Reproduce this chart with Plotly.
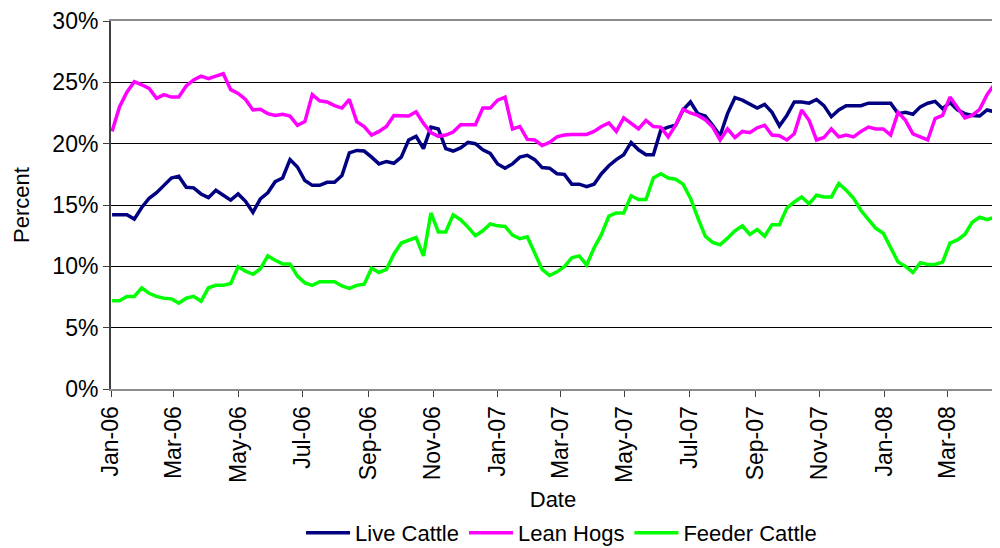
import pandas as pd
import plotly.graph_objects as go

# weekly observations, Jan-06 .. Apr-08
DATES = pd.date_range("2006-01-02", periods=120, freq="7D")

LIVE_CATTLE = [
    14.2, 14.2, 14.2, 13.85, 14.8, 15.55, 16.0, 16.6, 17.2, 17.35, 16.45, 16.4, 15.9, 15.6, 16.2, 15.8, 15.4, 15.9, 15.3, 14.4,
    15.5, 16.0, 16.9, 17.2, 18.7, 18.1, 17.0, 16.6, 16.6, 16.85, 16.85, 17.4, 19.25, 19.45, 19.4, 18.9, 18.35, 18.55, 18.4, 18.9,
    20.3, 20.6, 19.6, 21.35, 21.2, 19.6, 19.4, 19.65, 20.1, 20.0, 19.5, 19.2, 18.35, 18.0, 18.35, 18.9, 19.05, 18.7, 18.05,
    18.0, 17.55, 17.5, 16.7, 16.7, 16.5, 16.7, 17.55, 18.2, 18.7, 19.1, 20.1, 19.5, 19.1, 19.1, 21.1, 21.35, 21.5, 22.75,
    23.4, 22.45, 22.25, 21.5, 20.65, 22.45, 23.75, 23.55, 23.2, 22.9, 23.2, 22.55, 21.45, 22.3, 23.4, 23.4, 23.3, 23.6, 23.1, 22.2,
    22.75, 23.1, 23.1, 23.1, 23.3, 23.3, 23.3, 23.3, 22.45, 22.55, 22.4, 23.0, 23.3, 23.45, 22.85, 23.35, 22.75, 22.45, 22.3, 22.25, 22.75, 22.6,
]

LEAN_HOGS = [
    21.0, 23.0, 24.2, 25.05, 24.8, 24.5, 23.7, 24.0, 23.8, 23.8, 24.7, 25.2, 25.5, 25.3, 25.5, 25.7, 24.4, 24.1, 23.6, 22.75,
    22.8, 22.45, 22.3, 22.4, 22.25, 21.5, 21.8, 24.0, 23.5, 23.4, 23.1, 22.9, 23.6, 21.8, 21.4, 20.7, 21.0, 21.4, 22.3, 22.25,
    22.25, 22.6, 21.65, 20.9, 20.6, 20.7, 20.95, 21.55, 21.55, 21.55, 22.9, 22.9, 23.55, 23.8, 21.2, 21.4, 20.35, 20.3, 19.85,
    20.1, 20.55, 20.7, 20.75, 20.75, 20.75, 21.0, 21.4, 21.7, 21.0, 22.1, 21.65, 21.2, 21.9, 21.4, 21.35, 20.55, 21.5, 22.8,
    22.5, 22.3, 21.95, 21.35, 20.3, 21.2, 20.5, 21.0, 20.9, 21.3, 21.5, 20.7, 20.65, 20.3, 20.8, 22.75, 21.9, 20.3, 20.5, 21.2,
    20.55, 20.7, 20.55, 21.0, 21.35, 21.2, 21.2, 20.7, 22.55, 21.9, 20.8, 20.55, 20.3, 22.05, 22.3, 23.8, 23.0, 22.1, 22.3, 22.8, 24.0, 24.85,
]

FEEDER_CATTLE = [
    7.2, 7.2, 7.55, 7.55, 8.25, 7.8, 7.55, 7.4, 7.35, 7.0, 7.4, 7.55, 7.15, 8.25, 8.45, 8.45, 8.6, 9.97, 9.6, 9.35,
    9.8, 10.85, 10.5, 10.2, 10.2, 9.2, 8.65, 8.45, 8.75, 8.75, 8.75, 8.4, 8.2, 8.45, 8.55, 9.85, 9.5, 9.75, 11.0, 11.9,
    12.1, 12.35, 10.85, 14.35, 12.8, 12.8, 14.2, 13.8, 13.2, 12.5, 12.9, 13.45, 13.3, 13.25, 12.55, 12.25, 12.4, 11.1, 9.75,
    9.25, 9.55, 9.97, 10.7, 10.85, 10.1, 11.5, 12.6, 14.1, 14.35, 14.35, 15.75, 15.45, 15.45, 17.2, 17.55, 17.2, 17.1, 16.7,
    15.55, 13.95, 12.45, 11.95, 11.75, 12.3, 12.9, 13.3, 12.6, 13.0, 12.45, 13.4, 13.4, 14.75, 15.25, 15.65, 15.1, 15.8, 15.65, 15.65,
    16.75, 16.2, 15.55, 14.55, 13.8, 13.1, 12.7, 11.55, 10.35, 10.0, 9.5, 10.3, 10.15, 10.15, 10.35, 11.9, 12.15, 12.6, 13.6, 14.0, 13.8, 14.0,
]

SERIES = [
    ("Live Cattle", LIVE_CATTLE, "#000080"),
    ("Lean Hogs", LEAN_HOGS, "#ff00ff"),
    ("Feeder Cattle", FEEDER_CATTLE, "#00ff00"),
]

FONT = "Arial, Liberation Sans, sans-serif"

fig = go.Figure()
for name, vals, color in SERIES:
    fig.add_trace(go.Scatter(
        x=DATES,
        y=[v / 100 for v in vals],
        name=name,
        mode="lines",
        line=dict(color=color, width=3.5),
    ))

# page body has an 8px margin, so the figure is 992x540
fig.update_layout(
    width=992,
    height=540,
    font=dict(family=FONT, size=22, color="black"),
    plot_bgcolor="white",
    paper_bgcolor="white",
    margin=dict(l=103, r=5, t=13, b=159),
    showlegend=True,
    legend=dict(
        orientation="h",
        xref="container", x=0.558, xanchor="center",
        yref="container", y=0.028, yanchor="middle",
        font=dict(size=22),
        itemwidth=44,
    ),
    # right edge of the plot area
    shapes=[dict(type="line", xref="paper", yref="paper", x0=1, x1=1, y0=0, y1=1,
                 line=dict(color="#8c8c8c", width=2))],
)

fig.update_xaxes(
    type="date",
    range=["2006-01-01", "2008-04-14 12:00"],
    tick0="2006-01-01",
    dtick="M2",
    tickformat="%b-%y",
    tickangle=-90,
    tickfont=dict(size=23),
    ticks="outside",
    ticklen=6,
    tickcolor="#404040",
    showgrid=False,
    showline=True,
    linecolor="#8c8c8c",
    linewidth=2,
    mirror=True,
    automargin=False,
    title=dict(text="Date", standoff=10, font=dict(size=22)),
)

fig.update_yaxes(
    range=[0, 0.30],
    dtick=0.05,
    tickformat=".0%",
    tickfont=dict(size=23),
    ticks="outside",
    ticklen=6,
    tickcolor="#404040",
    showgrid=True,
    gridcolor="black",
    gridwidth=1,
    showline=True,
    linecolor="#404040",
    linewidth=2,
    zeroline=False,
    automargin=False,
    title=dict(text="Percent", standoff=17, font=dict(size=22)),
)

fig.write_html("out.html")
